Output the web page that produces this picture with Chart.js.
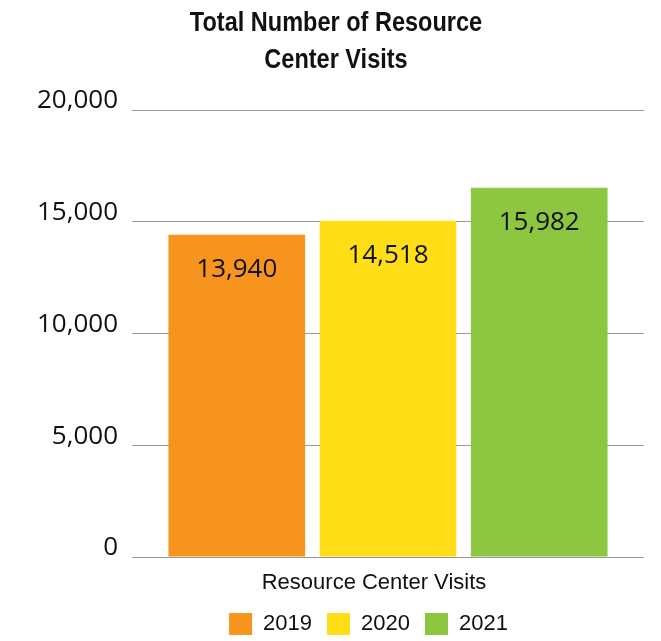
<!DOCTYPE html>
<html>
<head>
<meta charset="utf-8">
<script src="https://cdn.jsdelivr.net/npm/chart.js@4.4.0/dist/chart.umd.min.js"></script>
<style>
  body { margin: 0; background: #fff; }
  #wrap { position: relative; width: 661px; height: 641px; overflow: hidden; }
  #title {
    position: absolute; left: 136px; width: 400px; top: 3px;
    text-align: center; font-family: "Liberation Sans", Arial, sans-serif;
    font-weight: bold; font-size: 28px; line-height: 37px; color: #111;
    transform: scaleX(0.84); transform-origin: 50% 0;
  }
</style>
</head>
<body>
<div id="wrap">
  <canvas id="visits_chart" width="661" height="641"></canvas>
  <div id="title">Total Number of Resource<br>Center Visits</div>
</div>
<script>
var categories = ["Resource Center Visits"];
var years = ["2019", "2020", "2021"];
// bar heights as drawn, and the numbers printed on them
var barValues = [14420, 15040, 16520];
var printedValues = ["13,940", "14,518", "15,982"];
var yTicks = [0, 5000, 10000, 15000, 20000];
var colors = ["#F7941E", "#FFDD17", "#8DC641"];

var arial = "'Liberation Sans', Arial, sans-serif";
var myriad = "'Open Sans', sans-serif";

const barLabels = {
  id: "barLabels",
  afterDatasetsDraw(chart) {
    var ctx = chart.ctx;
    ctx.save();
    ctx.font = "26px " + myriad;
    ctx.fillStyle = "#111";
    ctx.textAlign = "center";
    ctx.textBaseline = "middle";
    chart.data.datasets.forEach((ds, i) => {
      var bar = chart.getDatasetMeta(i).data[0];
      ctx.fillText(printedValues[i], bar.x, bar.y + 35);
    });
    ctx.restore();
  }
};

// the y tick labels sit in the left padding, so don't let the scale clip them
const unclipY = {
  id: "unclipY",
  afterLayout(chart) { chart.scales.y.left = 0; }
};

var datasets = years.map((y, i) => ({
  label: y,
  data: [barValues[i]],
  backgroundColor: colors[i],
  borderWidth: 0,
  categoryPercentage: 0.886,
  barPercentage: 0.904
}));

var ctx = document.getElementById("visits_chart").getContext("2d");
var myChart = new Chart(ctx, {
  type: "bar",
  data: { labels: categories, datasets: datasets },
  plugins: [barLabels, unclipY],
  options: {
    responsive: false,
    animation: false,
    layout: { padding: { left: 93, right: 17, top: 110, bottom: -4 } },
    plugins: {
      title: { display: false },
      tooltip: { enabled: false },
      legend: {
        position: "bottom",
        labels: {
          boxWidth: 23,
          boxHeight: 22,
          padding: 15,
          color: "#111",
          font: { family: arial, size: 22 }
        }
      }
    },
    scales: {
      x: {
        afterFit: (scale) => { scale.height = 41; },
        grid: { display: false, drawTicks: false },
        border: { display: false },
        ticks: {
          color: "#111",
          padding: 13,
          labelOffset: -14,
          font: { family: arial, size: 22 }
        }
      },
      y: {
        min: 0,
        max: 20000,
        afterFit: (scale) => { scale.width = 39; },
        afterBuildTicks: (scale) => { scale.ticks = yTicks.map(v => ({ value: v })); },
        grid: { color: "#999", lineWidth: 1, drawTicks: false },
        border: { display: false },
        ticks: {
          padding: 14,
          labelOffset: -9,
          color: "#111",
          font: { family: myriad, size: 26 },
          callback: (v) => v.toLocaleString("en-US")
        }
      }
    }
  }
});
</script>
</body>
</html>
